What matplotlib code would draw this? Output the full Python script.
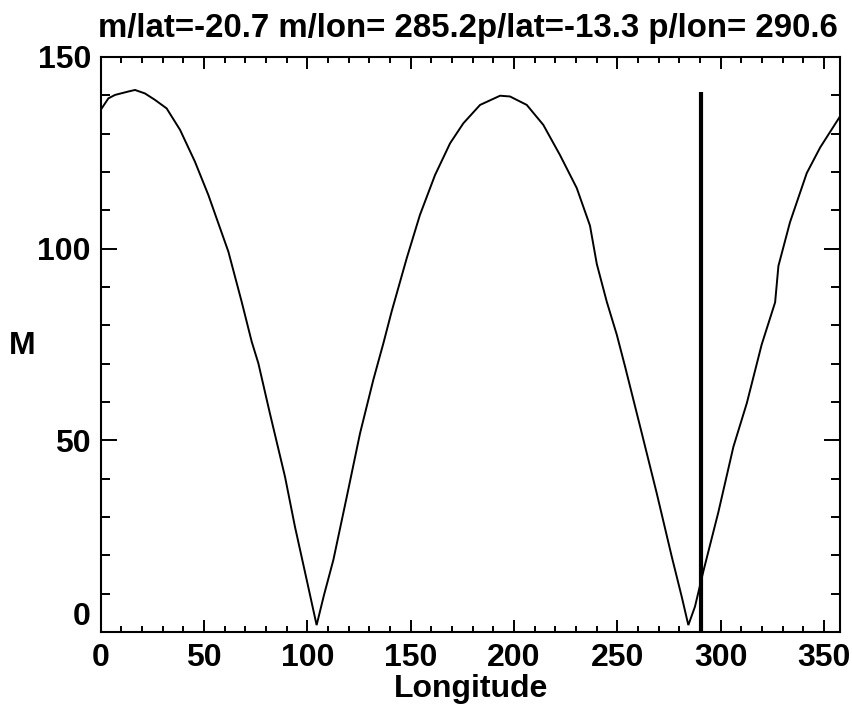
import matplotlib
matplotlib.use("Agg")
import matplotlib.pyplot as plt
from matplotlib.ticker import MultipleLocator

# ---- data ----
lon = [0, 3.7, 6.9, 13.4, 16.6, 21.4, 26.3, 31.9, 38.4, 45.6, 52.1, 61.8, 68.2,
       73.1, 76.3, 81.9, 89.2, 94.0, 99.7, 104.5, 108.0, 112.6, 119.1, 125.5,
       131.9, 136.8, 140.8, 148.1, 154.5, 161.8, 169.1, 175.5, 183.6, 193.3,
       198.1, 206.2, 214.2, 222.3, 230.4, 236.8, 240.1, 244.9, 249.8, 253.8,
       261.9, 269.1, 276.4, 281.2, 284.4, 287.6, 291.7, 298.9, 306.2, 312.7,
       319.9, 326.4, 328.0, 333.6, 341.7, 348.2, 357.8]
M = [136.2, 139.2, 140.1, 141.0, 141.4, 140.5, 138.8, 136.6, 131.0, 122.7, 114.0,
     99.2, 86.2, 75.7, 70.1, 57.0, 40.5, 27.5, 13.6, 1.8, 9.5, 18.8, 35.3, 51.8,
     65.7, 75.3, 83.6, 97.5, 108.8, 119.2, 127.5, 132.7, 137.5, 139.9, 139.7,
     137.5, 132.3, 124.4, 115.8, 106.0, 96.0, 86.2, 77.5, 69.2, 51.8, 36.2, 19.6,
     9.2, 1.8, 6.6, 15.9, 31.2, 48.3, 59.7, 75.0, 86.0, 95.5, 106.9, 119.7, 126.4,
     134.5]
p_lon = 290.6
marker_top = 141.0
title_text = "m/lat=-20.7 m/lon= 285.2p/lat=-13.3 p/lon= 290.6"
x_ticks = [0, 50, 100, 150, 200, 250, 300, 350]
y_ticks = [0, 50, 100, 150]

W, H = 853, 705
fig = plt.figure(figsize=(W / 100, H / 100), dpi=100)
fig.patch.set_facecolor("white")
ax = fig.add_axes([100.7 / W, (H - 632) / H, (840 - 100.7) / W, (632 - 57) / H])

ax.plot(lon, M, color="black", lw=1.4, solid_joinstyle="miter")
ax.plot([p_lon, p_lon], [0, marker_top], color="black", lw=3.0, solid_capstyle="butt")

ax.set_xlim(0, 357.8)
ax.set_ylim(0, 150)

lab_font = dict(family=["Liberation Sans", "DejaVu Sans"], weight="bold", size=23)
ax.set_xticks(x_ticks)
ax.set_yticks(y_ticks)
ax.set_xticklabels([str(v) for v in x_ticks], fontdict=lab_font)
ax.set_yticklabels([str(v) for v in y_ticks], fontdict=lab_font)
ax.xaxis.set_minor_locator(MultipleLocator(10))
ax.yaxis.set_minor_locator(MultipleLocator(10))

ax.tick_params(axis="x", which="major", direction="in", length=8.8, width=1.4,
               top=True, bottom=True, pad=8)
ax.tick_params(axis="x", which="minor", direction="in", length=4.2, width=1.4,
               top=True, bottom=True)
ax.tick_params(axis="y", which="major", direction="in", length=11.3, width=1.4,
               left=True, right=True, pad=7)
ax.tick_params(axis="y", which="minor", direction="in", length=6.5, width=1.4,
               left=True, right=True)
for s in ax.spines.values():
    s.set_linewidth(1.5)

# the "0" y label sits on top of the axis line in the reference
ylabs = ax.get_yticklabels()
ylabs[0].set_verticalalignment("bottom")

fig.text(471 / W, 1 - 689 / H, "Longitude", ha="center", va="center", **lab_font)
fig.text(22 / W, 1 - 346 / H, "M", ha="center", va="center", **lab_font)

t = fig.text(467.5 / W, 1 - 28 / H, title_text, ha="center", va="center",
             family=["Liberation Sans Narrow", "Liberation Sans", "DejaVu Sans"],
             weight="bold", size=20)
# fit the title width to the reference (about 741 px)
fig.canvas.draw()
bb = t.get_window_extent()
t.set_fontsize(20 * 741 / bb.width)

fig.savefig("out.png", dpi=100, facecolor="white")
